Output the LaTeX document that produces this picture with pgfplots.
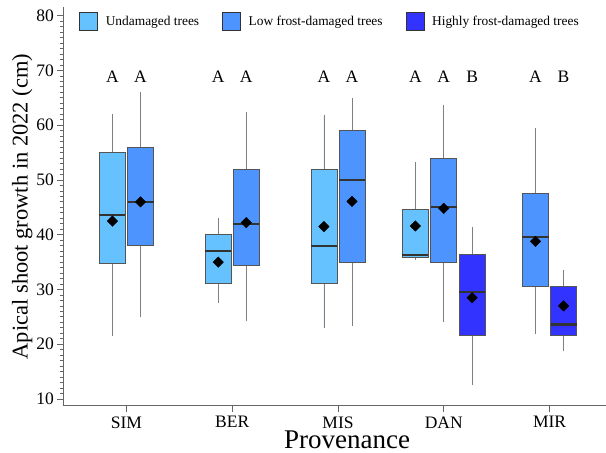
\documentclass[border=0pt]{standalone}
\usepackage{fontspec}
\setmainfont{Liberation Serif}
\usepackage{pgfplots}
\pgfplotsset{compat=1.18}
\usepgfplotslibrary{statistics}
\definecolor{cU}{RGB}{102,194,255}
\definecolor{cL}{RGB}{77,148,255}
\definecolor{cH}{RGB}{51,51,255}
\definecolor{edgec}{RGB}{85,85,85}
\pgfplotsset{
  bx/.style={draw=edgec, line width=0.8pt, solid,
    boxplot/draw direction=y,
    boxplot/box extend=0.246, boxplot/whisker extend=0,
    boxplot/every median/.style={draw=black!80, line width=2.3pt},
    boxplot/every whisker/.style={draw=black!50, line width=0.8pt}},
}
\begin{document}
\begin{tikzpicture}
\useasboundingbox (0,0) rectangle (606pt,453pt);
\begin{axis}[
  at={(63.3pt,47.3pt)}, anchor=south west,
  scale only axis, width=542.7pt, height=398.4pt,
  xmin=0.4024, xmax=5.534, ymin=8.78, ymax=81.53,
  boxplot/draw direction=y,
  axis x line*=bottom, axis y line*=left,
  axis line style={draw=black!60, line width=0.9pt},
  xtick={1,2,3,4,5}, xticklabels={SIM,BER,MIS,DAN,MIR},
  ytick={10,20,...,80}, minor y tick num=9,
  tick align=outside,
  major tick length=6pt, minor tick length=3.3pt,
  tick style={draw=black!60, line width=0.8pt},
  /pgf/number format/assume math mode=true,
  ticklabel style={font=\fontsize{17.5}{20}\selectfont},
  xticklabel style={inner sep=1pt, yshift=-3.6pt},
  xlabel={Provenance}, ylabel={Apical shoot growth in 2022 (cm)},
  x label style={at={(axis description cs:0.5228,-0.1072)}, anchor=base, inner sep=1pt, font=\fontsize{27}{30}\selectfont},
  y label style={at={(axis description cs:-0.0655,0.5)}, anchor=base, font=\fontsize{22.5}{25}\selectfont},
  legend columns=3,
  legend cell align=left,
  legend image code/.code={\draw[#1] (0pt,-9pt) rectangle (18pt,9pt);},
  legend style={at={(axis description cs:0.0295,0.9644)}, anchor=west, draw=none, fill=none,
    inner sep=0pt, outer sep=0pt, font=\fontsize{13.4}{16}\selectfont,
    nodes={inner sep=0pt},
    /tikz/every odd column/.append style={column sep=7.7pt},
    /tikz/every even column/.append style={column sep=23pt}},
]
\addlegendimage{fill=cU, draw=black!80, line width=0.8pt}
\addlegendentry{Undamaged trees}
\addlegendimage{fill=cL, draw=black!80, line width=0.8pt}
\addlegendentry{Low frost-damaged trees}
\addlegendimage{fill=cH, draw=black!80, line width=0.8pt}
\addlegendentry{Highly frost-damaged trees}

% SIM
\addplot[bx, fill=cU, boxplot prepared={draw position=0.8673, lower whisker=21.5, lower quartile=34.7, median=43.6, upper quartile=55.0, upper whisker=62.0}] coordinates {};
\addplot[bx, fill=cL, boxplot prepared={draw position=1.1327, lower whisker=24.9, lower quartile=38.0, median=46.0, upper quartile=55.9, upper whisker=66.0}] coordinates {};
% BER
\addplot[bx, fill=cU, boxplot prepared={draw position=1.8673, lower whisker=27.6, lower quartile=31.1, median=37.0, upper quartile=40.0, upper whisker=43.0}] coordinates {};
\addplot[bx, fill=cL, boxplot prepared={draw position=2.1327, lower whisker=24.2, lower quartile=34.4, median=42.0, upper quartile=52.0, upper whisker=62.5}] coordinates {};
% MIS
\addplot[bx, fill=cU, boxplot prepared={draw position=2.8673, lower whisker=23.0, lower quartile=31.1, median=38.0, upper quartile=52.0, upper whisker=61.8}] coordinates {};
\addplot[bx, fill=cL, boxplot prepared={draw position=3.1327, lower whisker=23.4, lower quartile=35.0, median=50.0, upper quartile=59.0, upper whisker=65.0}] coordinates {};
% DAN
\addplot[bx, fill=cU, boxplot prepared={draw position=3.732, lower whisker=35.4, lower quartile=35.9, median=36.3, upper quartile=44.7, upper whisker=53.3}] coordinates {};
\addplot[bx, fill=cL, boxplot prepared={draw position=4.0, lower whisker=24.1, lower quartile=35.0, median=45.0, upper quartile=54.0, upper whisker=63.7}] coordinates {};
\addplot[bx, fill=cH, boxplot prepared={draw position=4.268, lower whisker=12.6, lower quartile=21.6, median=29.5, upper quartile=36.4, upper whisker=41.4}] coordinates {};
% MIR
\addplot[bx, fill=cL, boxplot prepared={draw position=4.8673, lower whisker=21.8, lower quartile=30.6, median=39.6, upper quartile=47.6, upper whisker=59.5}] coordinates {};
\addplot[bx, fill=cH, boxplot prepared={draw position=5.1327, lower whisker=18.7, lower quartile=21.6, median=23.6, upper quartile=30.6, upper whisker=33.5}] coordinates {};

% means
\addplot[only marks, mark=square*, mark size=3.7pt, mark options={rotate=45, fill=black, draw=black, solid}]
coordinates {(0.8673,42.5) (1.1327,46.0) (1.8673,35.0) (2.1327,42.2) (2.8673,41.5) (3.1327,46.1)
 (3.732,41.6) (4.0,44.8) (4.268,28.5) (4.8673,38.8) (5.1327,27.0)};

% letters
\foreach \xx/\tt in {0.8673/A,1.1327/A,1.8673/A,2.1327/A,2.8673/A,3.1327/A,3.732/A,4.0/A,4.268/B,4.8673/A,5.1327/B}{
  \edef\tmp{\noexpand\node[font=\noexpand\fontsize{17.5}{20}\noexpand\selectfont, anchor=center, inner sep=0pt] at (axis cs:\xx,68.9) {\tt};}
  \tmp
}
\end{axis}
\end{tikzpicture}
\end{document}
